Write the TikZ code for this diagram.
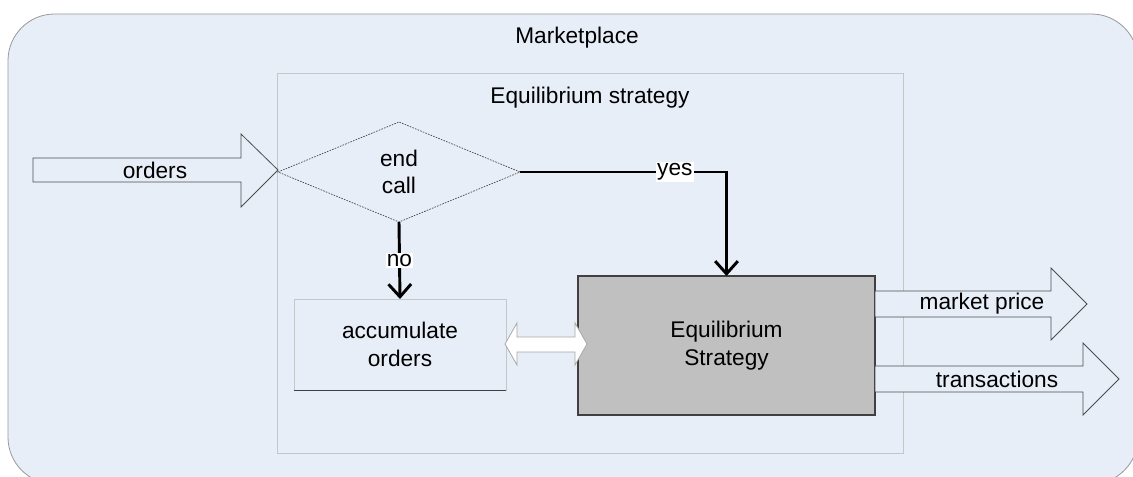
\documentclass[tikz,border=0pt]{standalone}
\usepackage{fontspec}
\setmainfont{Liberation Sans}
\usetikzlibrary{shapes.geometric,arrows.meta,positioning}
\definecolor{panel}{RGB}{232,238,248}
\definecolor{boxgray}{RGB}{192,192,192}
\begin{document}
\begin{tikzpicture}[x=0.75pt, y=-0.75pt,
    every node/.style={font=\fontsize{17}{20.5}\selectfont, align=center},
    flow/.style={line width=2.2pt, -{Straight Barb[length=9.5pt, width=17pt, line width=2.2pt]}},
    tag/.style={fill=white, inner sep=1pt},
    blockarrow/.style={draw=black!70, fill=panel, line width=0.6pt, line join=miter}]
    \useasboundingbox (0,0) rectangle (1133,477);
    \fill[white] (0,0) rectangle (1133,477);

    % Moldura do mercado.
    \begin{scope}
      \clip (0,0) rectangle (1133,477);
      \draw[gray!80, fill=panel, line width=0.6pt, rounded corners=35] (8,14) rectangle (1138,484);
    \end{scope}
    \node (market) at (577,38) {Marketplace};

    % Moldura da estrategia.
    \draw[gray!45, line width=0.6pt] (277,73) rectangle (903,453);
    \node (eqtitle) at (590,98) {Equilibrium strategy};

    % Decisao e caixas.
    \node[diamond, draw=black!75, dash pattern=on 1.2pt off 0.9pt, line width=0.5pt,
          minimum width=181.5pt, minimum height=75pt, inner sep=0pt, outer sep=0pt]
          (endcall) at (399,172) {end\\call};
    \node[draw=gray!45, line width=0.6pt, minimum width=159pt, minimum height=68.25pt,
          outer sep=0pt] (accum) at (400,344.5) {accumulate\\orders};
    \draw[black!75, line width=0.7pt] (accum.south west) -- (accum.south east);
    \node[draw=black!75, fill=boxgray, line width=0.8pt, minimum width=222.75pt,
          minimum height=104.25pt, outer sep=0pt] (eqbox) at (726.5,345.5) {Equilibrium\\Strategy};

    % Ligacoes sim / nao.
    \draw[flow] (endcall.south) -- node[tag] {no} (accum.north);
    \draw[flow] (endcall.east) -| node[tag, pos=0.375] {yes} (eqbox.north);

    % Seta de entrada.
    \draw[blockarrow] (33,158) -- (241,158) -- (241,134) -- (278,170)
      -- (241,207) -- (241,182) -- (33,182) -- cycle;
    \node (orders) at (155,170) {orders};

    % Seta dupla entre as caixas.
    \draw[blockarrow, fill=white, draw=gray!70] (505,344) -- (517,323) -- (517,337)
      -- (575,337) -- (575,323) -- (587,344) -- (575,365) -- (575,352)
      -- (517,352) -- (517,365) -- cycle;

    % Setas de saida.
    \foreach \name/\y/\base/\tip/\tx/\txt in {price/304/1051/1087/982/market price,
                                           trans/379/1083/1119/997/transactions} {
      \draw[blockarrow] (875,\y-13) -- (\base,\y-13) -- (\base,\y-36) -- (\tip,\y)
        -- (\base,\y+36) -- (\base,\y+13) -- (875,\y+13) -- cycle;
      \node (\name) at (\tx,\y) {\txt};
    }
  \end{tikzpicture}
\end{document}
